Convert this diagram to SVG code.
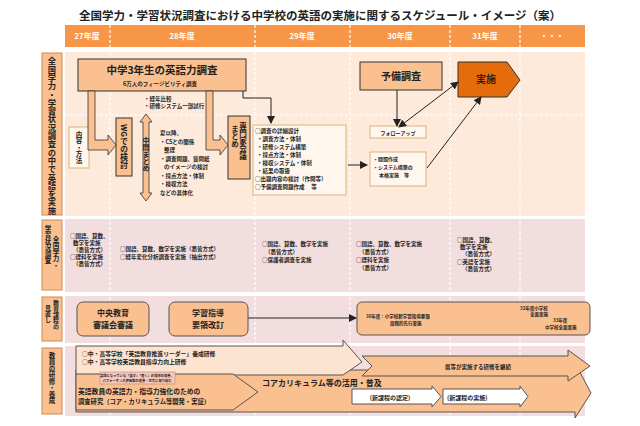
<svg xmlns="http://www.w3.org/2000/svg" width="640" height="426" viewBox="0 0 640 426">
<defs>
<style>
text{font-family:"Noto Sans CJK JP",sans-serif;fill:#222;}
.b{font-weight:bold;}
.hd{fill:#fff;font-size:8px;font-weight:bold;text-anchor:middle;}
.lab{fill:#fac090;stroke:#d08a50;stroke-width:1;}
.box{fill:#fac090;stroke:#333;stroke-width:1;}
.wbox{fill:#fff6ee;stroke:#e0b080;stroke-width:1;}
.sep{stroke:#fff;stroke-width:1.2;stroke-dasharray:3 2;}
.vt{writing-mode:vertical-rl;font-weight:bold;}
.s5{font-size:5.5px;font-weight:bold;}
.ln{stroke:#222;stroke-width:1;fill:none;}
</style>
<marker id="ah" markerWidth="8" markerHeight="8" refX="7" refY="4" orient="auto-start-reverse" markerUnits="userSpaceOnUse"><path d="M0,0 L8,4 L0,8 z" fill="#222"/></marker>
</defs>
<rect width="640" height="426" fill="#fff"/>
<text x="320" y="20" font-size="11.5" class="b" text-anchor="middle">全国学力・学習状況調査における中学校の英語の実施に関するスケジュール・イメージ（案）</text>
<g id="header">
<rect x="65" y="25" width="520" height="22" fill="#f79646"/>
<g class="sep"><line x1="110" y1="25" x2="110" y2="420"/><line x1="255" y1="25" x2="255" y2="420"/><line x1="350" y1="25" x2="350" y2="420"/><line x1="450" y1="25" x2="450" y2="420"/><line x1="520" y1="25" x2="520" y2="420"/></g>
<text class="hd" x="87" y="39">27年度</text><text class="hd" x="182" y="39">28年度</text><text class="hd" x="302" y="39">29年度</text><text class="hd" x="400" y="39">30年度</text><text class="hd" x="485" y="39">31年度</text><text class="hd" x="552" y="39">・・・</text>
</g>
<g id="rows">
<rect x="65" y="52" width="520" height="164" fill="#fdeada"/>
<rect x="65" y="219" width="520" height="73" fill="#f2dede"/>
<rect x="65" y="296" width="520" height="47" fill="#f2dede"/>
<rect x="65" y="346" width="520" height="70" fill="#f2dede"/>
<g class="sep"><line x1="110" y1="52" x2="110" y2="416"/><line x1="255" y1="52" x2="255" y2="416"/><line x1="350" y1="52" x2="350" y2="416"/><line x1="450" y1="52" x2="450" y2="416"/><line x1="520" y1="52" x2="520" y2="416"/><line x1="65" y1="217.5" x2="585" y2="217.5"/><line x1="65" y1="294" x2="585" y2="294"/><line x1="65" y1="344.5" x2="585" y2="344.5"/></g>
<line x1="65" y1="115" x2="585" y2="115" stroke="#fff" stroke-dasharray="3 2"/>
</g>
<g id="labels">
<rect class="lab" x="42" y="53" width="20" height="162"/>
<text class="vt" x="52" y="57" font-size="8.3">全国学力・学習状況調査の中で英語を実施</text>
<rect class="lab" x="42" y="220" width="20" height="70"/>
<text class="vt" x="56" y="236" font-size="6.5">全国学力・</text><text class="vt" x="48" y="225" font-size="6.5">学習状況調査</text>
<rect class="lab" x="42" y="297" width="20" height="44"/>
<text class="vt" x="56" y="300" font-size="6">教育課程の</text><text class="vt" x="48" y="305" font-size="6">見直し</text>
<rect class="lab" x="42" y="348" width="20" height="66"/>
<text class="vt" x="52" y="352" font-size="6.5">教員の研修・養成</text>
</g>
<g id="survey">
<rect class="box" x="78" y="59" width="168" height="32"/>
<text x="162" y="74" font-size="10.5" class="b" text-anchor="middle">中学3年生の英語力調査</text>
<text x="160" y="86" font-size="5.5" class="b" text-anchor="middle">6万人のフィージビリティ調査</text>
</g>
<g id="naiyou"><rect class="wbox" x="69" y="127" width="20" height="41"/><text class="vt" x="79" y="131" font-size="6.5">内容・方法</text></g>
<g id="wg"><rect class="box" x="116" y="118" width="16" height="58"/><text class="vt" x="124" y="124" font-size="8">WGでの検討</text></g>
<g id="chukan">
<path d="M146,114 L152,122 L149,122 L149,193 L152,193 L146,201 L140,193 L143,193 L143,122 L140,122 z" fill="#fac090" stroke="#333" stroke-width="0.8"/>
<text class="vt" x="146" y="137" font-size="7">中間まとめ</text>
</g>
<g id="notes1">
<text class="s5" x="144" y="101" font-size="4.5">・経年比較</text>
<text class="s5" x="144" y="108" font-size="4.5">・研修システム一部試行</text>
<text class="s5" x="160" y="135">夏以降、</text>
<text class="s5" x="160" y="144">・CSとの関係</text>
<text class="s5" x="164" y="152">整理</text>
<text class="s5" x="160" y="161">・調査問題、質問紙</text>
<text class="s5" x="164" y="169">のイメージの検討</text>
<text class="s5" x="160" y="178">・採点方法・体制</text>
<text class="s5" x="160" y="186">・検収方法</text>
<text class="s5" x="160" y="195">などの具体化</text>
</g>
<g id="senmon"><rect class="box" x="228" y="116" width="22" height="63"/><text class="vt" x="243" y="122" font-size="7.5">専門家会議</text><text class="vt" x="235" y="125" font-size="7.5">まとめ</text></g>
<g id="detail">
<rect class="wbox" x="253" y="125" width="93" height="70"/>
<g font-size="5.5" class="b"><text x="255" y="133">○調査の詳細設計</text><text x="257" y="141">・調査方法・体制</text><text x="257" y="149">・研修システム構築</text><text x="257" y="157">・採点方法・体制</text><text x="257" y="165">・検収システム・体制</text><text x="257" y="173">・結果の取扱</text><text x="255" y="181">○出題内容の検討（作問等）</text><text x="255" y="189">○予備調査問題作成　 等</text></g>
</g>
<g id="yobi"><rect class="box" x="360" y="62" width="82" height="28"/><text x="401" y="80" font-size="10" class="b" text-anchor="middle">予備調査</text></g>
<g id="jisshi"><path d="M458,62 L507,62 L520,80 L507,97 L458,97 z" fill="#e46c0a" stroke="#333"/><text x="486" y="83" font-size="10" class="b" text-anchor="middle" fill="#222">実施</text></g>
<g id="follow"><rect class="wbox" x="370" y="126" width="56" height="12"/><text x="398" y="134.5" font-size="5" class="b" text-anchor="middle">フォローアップ</text></g>
<g id="mondai"><rect class="wbox" x="370" y="152" width="56" height="34"/><g font-size="5" class="b"><text x="373" y="161">・問題作成</text><text x="373" y="169">・システム構築の</text><text x="379" y="177">本格実施　等</text></g></g>
<g id="connectors">
<path d="M95,91 L95,140 L108,140 L108,135 L116,145 L108,155 L108,150 L88,150 L88,91 z" fill="#fac090" stroke="#333" stroke-width="0.8"/>
<path d="M213,91 L213,140 L220,140 L220,135 L228,145 L220,155 L220,150 L206,150 L206,91 z" fill="#fac090" stroke="#333" stroke-width="0.8"/>
<path class="ln" d="M243,91 L243,98 L271,98 L271,123" marker-end="url(#ah)"/>
<path class="ln" d="M348,165 L367,165" marker-end="url(#ah)"/>
<path class="ln" d="M397,90 L397,126" marker-end="url(#ah)"/>
<path class="ln" d="M399,127 L458,82" marker-start="url(#ah)" marker-end="url(#ah)"/>
<path class="ln" d="M427,168 L481,97" marker-end="url(#ah)"/>
<path class="ln" d="M248,318 L356,318" marker-end="url(#ah)"/>
</g>
<g id="row2" font-size="5.5" class="b">
<text x="70" y="238">○国語、算数、</text><text x="73" y="245">数学を実施</text><text x="73" y="252">（悉皆方式）</text><text x="70" y="259">○理科を実施</text><text x="73" y="266">（悉皆方式）</text>
<text x="120" y="251">○国語、算数、数学を実施（悉皆方式）</text><text x="120" y="259">○経年変化分析調査を実施（抽出方式）</text>
<text x="262" y="246">○国語、算数、数学を実施</text><text x="265" y="254">（悉皆方式）</text><text x="262" y="262">○保護者調査を実施</text>
<text x="356" y="246">○国語、算数、数学を実施</text><text x="359" y="254">（悉皆方式）</text><text x="356" y="262">○理科を実施</text><text x="359" y="270">（悉皆方式）</text>
<text x="457" y="242">○国語、算数、</text><text x="460" y="249">数学を実施</text><text x="462" y="256">（悉皆方式）</text><text x="457" y="264">○英語を実施</text><text x="462" y="271">（悉皆方式）</text>
</g>
<g id="chuo"><rect x="77" y="302" width="72" height="34" rx="6" fill="#fac090" stroke="#555"/><text x="113" y="316" font-size="8" class="b" text-anchor="middle">中央教育</text><text x="113" y="328" font-size="8" class="b" text-anchor="middle">審議会審議</text></g>
<g id="shido"><rect x="169" y="302" width="79" height="34" rx="6" fill="#fac090" stroke="#555"/><text x="208" y="316" font-size="8" class="b" text-anchor="middle">学習指導</text><text x="208" y="328" font-size="8" class="b" text-anchor="middle">要領改訂</text></g>
<g id="youryou"><rect x="357" y="302" width="233" height="33" rx="5" fill="#fac090" stroke="#555"/>
<g font-size="4.5" class="b"><text x="366" y="318">30年度：小学校新学習指導要領</text><text x="390" y="325">段階的先行実施</text><text x="520" y="310">32年度小学校</text><text x="530" y="316">全面実施</text><text x="553" y="322">33年度</text><text x="545" y="329">中学校全面実施</text></g></g>
<g id="core"><path d="M76,370 L575,370 L575,363 L591,393 L575,418 L575,412 L76,412 z" fill="#fac090" stroke="#555"/>
<text x="262" y="386" font-size="8" class="b">コアカリキュラム等の活用・普及</text></g>
<g id="leader"><path d="M76,346 L343,346 L343,340 L362,362 L343,375 L76,375 z" fill="#fce4d0" stroke="#555"/>
<text x="82" y="356" font-size="5.8" class="b">○中・高等学校「英語教育推進リーダー」養成研修</text><text x="82" y="364" font-size="5.8" class="b">○中・高等学校英語教員指導力向上研修</text></g>
<g id="ken"><path d="M362,356 L568,356 L568,350 L590,366 L568,381 L568,376 L362,376 L372,366 z" fill="#fac090" stroke="#555"/><text x="478" y="369" font-size="5.5" class="b" text-anchor="middle">県等が実施する研修を継続</text></g>
<g id="kenkyu"><path d="M76,374 L233,374 L258,392 L233,410 L76,410 z" fill="#fac090" stroke="#555"/>
<rect x="100" y="372" width="75" height="12" fill="#f8c8b8" stroke="#c08080" stroke-width="0.6"/>
<text x="137" y="377" font-size="3.3" class="b" text-anchor="middle">課題となっている「話す」「書く」の指導の改善、</text><text x="137" y="382" font-size="3.3" class="b" text-anchor="middle">パフォーマンス評価等の改善・充実に取り組む</text>
<text x="78" y="394" font-size="6.8" class="b">英語教員の英語力・指導力強化のための</text><text x="78" y="404" font-size="6.3" class="b">調査研究（コア・カリキュラム等開発・実証）</text></g>
<g id="nintei"><path d="M352,389 L432,389 L432,386 L441,396.5 L432,407 L432,404 L352,404 z" fill="#fff" stroke="#555"/><text x="390" y="399.5" font-size="6" class="b" text-anchor="middle">(新課程の認定)</text></g>
<g id="jissi2"><path d="M443,389 L520,389 L520,386 L528,396.5 L520,407 L520,404 L443,404 z" fill="#fff" stroke="#555"/><text x="447" y="399.5" font-size="6" class="b">(新課程の実施)</text></g>
</svg>
